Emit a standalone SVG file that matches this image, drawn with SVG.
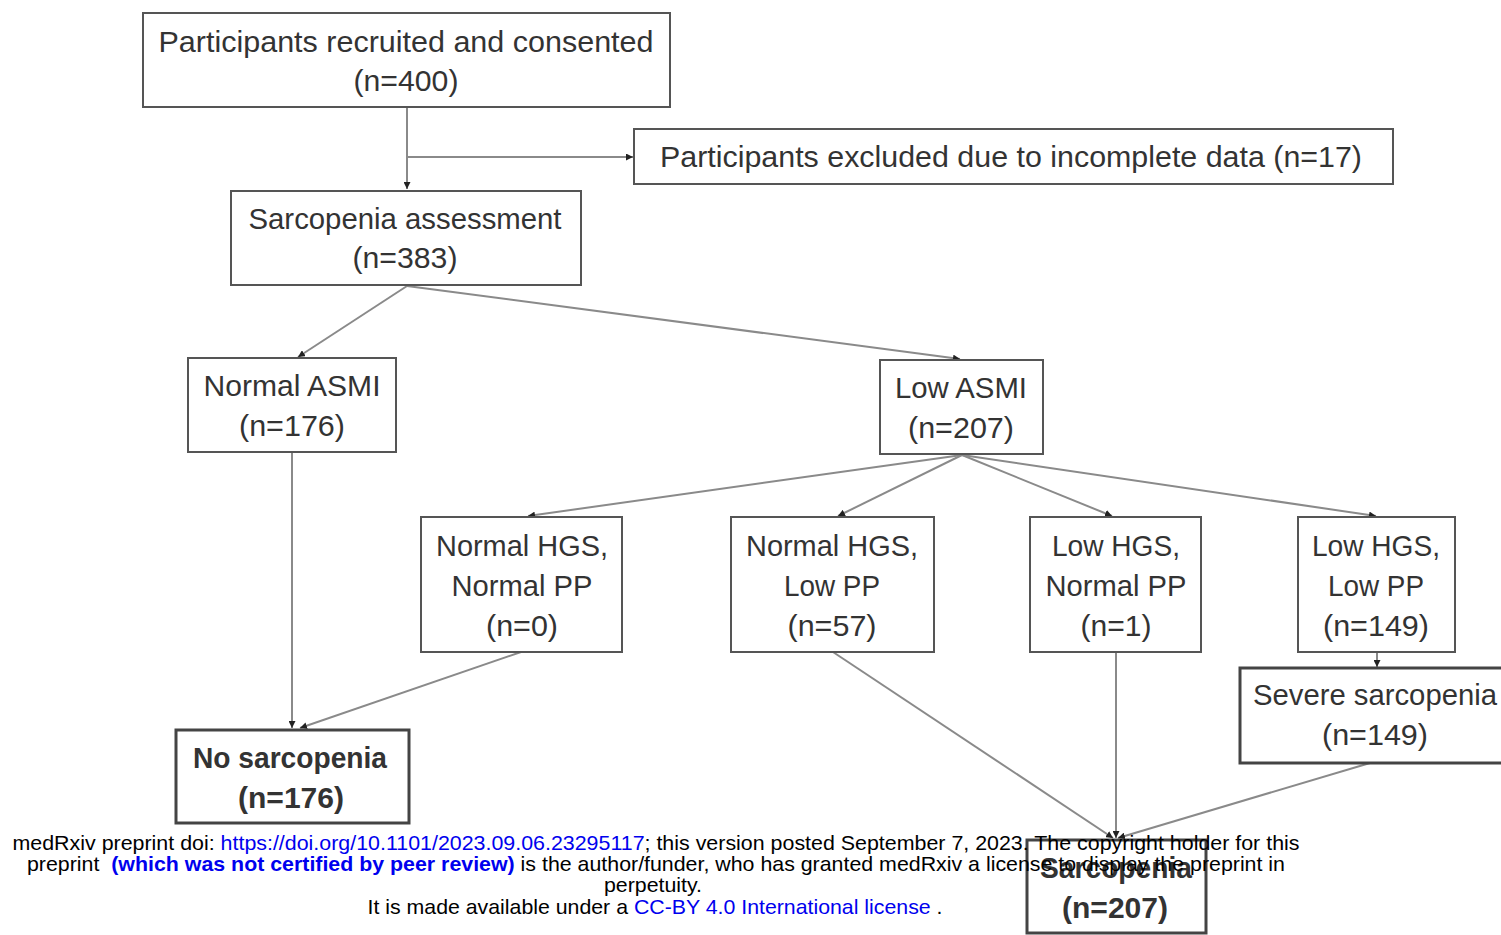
<svg xmlns="http://www.w3.org/2000/svg" width="1501" height="935" viewBox="0 0 1501 935">
<style>
.box{fill:#fff;stroke:#555;stroke-width:2}
.bold{fill:#fff;stroke:#444;stroke-width:3}
.t{font-family:"Liberation Sans",Arial,sans-serif;font-size:30px;fill:#333;text-anchor:middle}
.tb{font-family:"Liberation Sans",Arial,sans-serif;font-size:30px;font-weight:bold;fill:#333;text-anchor:middle}
.c{fill:none;stroke:#8a8a8a;stroke-width:2}
.f{font-family:"Liberation Sans",Arial,sans-serif;font-size:21px;fill:#000;text-anchor:middle}
.bl{fill:#0000ee}
</style>
<defs>
<marker id="ah" viewBox="0 0 10 10" refX="10" refY="5" markerWidth="7" markerHeight="7" orient="auto" markerUnits="userSpaceOnUse"><path d="M0,0 L10,5 L0,10 z" fill="#222"/></marker>
</defs>
<rect width="1501" height="935" fill="#fff"/>
<g id="connectors">
<path class="c" d="M407,107 V189" marker-end="url(#ah)"/>
<path class="c" d="M407,157 H633" marker-end="url(#ah)"/>
<path class="c" d="M407,286 L298,357" marker-end="url(#ah)"/>
<path class="c" d="M407,286 L960,359" marker-end="url(#ah)"/>
<path class="c" d="M962,455 L528,516" marker-end="url(#ah)"/>
<path class="c" d="M962,455 L838,516" marker-end="url(#ah)"/>
<path class="c" d="M962,455 L1112,516" marker-end="url(#ah)"/>
<path class="c" d="M962,455 L1376,516" marker-end="url(#ah)"/>
<path class="c" d="M292,453 V728" marker-end="url(#ah)"/>
<path class="c" d="M521,652 L300,728" marker-end="url(#ah)"/>
<path class="c" d="M1377,652 V667" marker-end="url(#ah)"/>
<path class="c" d="M833,652 L1113,838" marker-end="url(#ah)"/>
<path class="c" d="M1116,652 V838" marker-end="url(#ah)"/>
<path class="c" d="M1370,763 L1118,838" marker-end="url(#ah)"/>
</g>
<g id="n-recruited">
<rect class="box" x="143" y="13" width="527" height="94"/>
<text class="t" x="406" y="52" textLength="495" lengthAdjust="spacingAndGlyphs">Participants recruited and consented</text>
<text class="t" x="406" y="91" textLength="105" lengthAdjust="spacingAndGlyphs">(n=400)</text>
</g>
<g id="n-excluded">
<rect class="box" x="634" y="129" width="759" height="55"/>
<text class="t" x="1011" y="167" textLength="702" lengthAdjust="spacingAndGlyphs">Participants excluded due to incomplete data (n=17)</text>
</g>
<g id="n-assessment">
<rect class="box" x="231" y="191" width="350" height="94"/>
<text class="t" x="405" y="229" textLength="313" lengthAdjust="spacingAndGlyphs">Sarcopenia assessment</text>
<text class="t" x="405" y="268" textLength="105" lengthAdjust="spacingAndGlyphs">(n=383)</text>
</g>
<g id="n-normal-asmi">
<rect class="box" x="188" y="358" width="208" height="94"/>
<text class="t" x="292" y="396" textLength="177" lengthAdjust="spacingAndGlyphs">Normal ASMI</text>
<text class="t" x="292" y="436" textLength="106" lengthAdjust="spacingAndGlyphs">(n=176)</text>
</g>
<g id="n-low-asmi">
<rect class="box" x="880" y="360" width="163" height="94"/>
<text class="t" x="961" y="398" textLength="132" lengthAdjust="spacingAndGlyphs">Low ASMI</text>
<text class="t" x="961" y="438" textLength="106" lengthAdjust="spacingAndGlyphs">(n=207)</text>
</g>
<g id="n-nhgs-npp">
<rect class="box" x="421" y="517" width="201" height="135"/>
<text class="t" x="522" y="556" textLength="172" lengthAdjust="spacingAndGlyphs">Normal HGS,</text>
<text class="t" x="522" y="596" textLength="141" lengthAdjust="spacingAndGlyphs">Normal PP</text>
<text class="t" x="522" y="636" textLength="72" lengthAdjust="spacingAndGlyphs">(n=0)</text>
</g>
<g id="n-nhgs-lpp">
<rect class="box" x="731" y="517" width="203" height="135"/>
<text class="t" x="832" y="556" textLength="172" lengthAdjust="spacingAndGlyphs">Normal HGS,</text>
<text class="t" x="832" y="596" textLength="96" lengthAdjust="spacingAndGlyphs">Low PP</text>
<text class="t" x="832" y="636" textLength="89" lengthAdjust="spacingAndGlyphs">(n=57)</text>
</g>
<g id="n-lhgs-npp">
<rect class="box" x="1030" y="517" width="171" height="135"/>
<text class="t" x="1116" y="556" textLength="128" lengthAdjust="spacingAndGlyphs">Low HGS,</text>
<text class="t" x="1116" y="596" textLength="141" lengthAdjust="spacingAndGlyphs">Normal PP</text>
<text class="t" x="1116" y="636" textLength="71" lengthAdjust="spacingAndGlyphs">(n=1)</text>
</g>
<g id="n-lhgs-lpp">
<rect class="box" x="1298" y="517" width="157" height="135"/>
<text class="t" x="1376" y="556" textLength="128" lengthAdjust="spacingAndGlyphs">Low HGS,</text>
<text class="t" x="1376" y="596" textLength="96" lengthAdjust="spacingAndGlyphs">Low PP</text>
<text class="t" x="1376" y="636" textLength="106" lengthAdjust="spacingAndGlyphs">(n=149)</text>
</g>
<g id="n-severe">
<rect class="bold" x="1240" y="668" width="270" height="95"/>
<text class="t" x="1375" y="705" textLength="244" lengthAdjust="spacingAndGlyphs">Severe sarcopenia</text>
<text class="t" x="1375" y="745" textLength="106" lengthAdjust="spacingAndGlyphs">(n=149)</text>
</g>
<g id="n-no-sarcopenia">
<rect class="bold" x="176" y="730" width="233" height="93"/>
<text class="tb" x="290" y="768" textLength="194" lengthAdjust="spacingAndGlyphs">No sarcopenia</text>
<text class="tb" x="291" y="808" textLength="106" lengthAdjust="spacingAndGlyphs">(n=176)</text>
</g>
<g id="n-sarcopenia">
<rect class="bold" x="1027" y="840" width="179" height="93"/>
<text class="tb" x="1116" y="878" textLength="152" lengthAdjust="spacingAndGlyphs">Sarcopenia</text>
<text class="tb" x="1115" y="918" textLength="106" lengthAdjust="spacingAndGlyphs">(n=207)</text>
</g>
<g id="footer">
<text class="f" x="656" y="850" textLength="1287" lengthAdjust="spacingAndGlyphs">medRxiv preprint doi: <tspan class="bl">https://doi.org/10.1101/2023.09.06.23295117</tspan>; this version posted September 7, 2023. The copyright holder for this</text>
<text class="f" x="656" y="871" textLength="1258" lengthAdjust="spacingAndGlyphs" xml:space="preserve">preprint  <tspan class="bl" font-weight="bold">(which was not certified by peer review)</tspan> is the author/funder, who has granted medRxiv a license to display the preprint in</text>
<text class="f" x="653" y="892" textLength="98" lengthAdjust="spacingAndGlyphs">perpetuity.</text>
<text class="f" x="655" y="914" textLength="575" lengthAdjust="spacingAndGlyphs">It is made available under a <tspan class="bl">CC-BY 4.0 International license</tspan> .</text>
</g>
</svg>
